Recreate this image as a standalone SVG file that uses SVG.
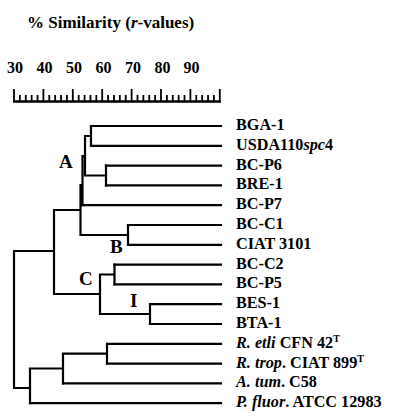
<svg xmlns="http://www.w3.org/2000/svg" width="400" height="420" viewBox="0 0 400 420">
<style>
text{font-family:"Liberation Serif","Times New Roman",serif;font-weight:bold;fill:#000}
.lbl{font-size:16.2px}
.num{font-size:16px;text-anchor:middle}
.cl{font-size:19px}
.it{font-style:italic}
.ln{fill:none;stroke:#000;stroke-width:2.2;stroke-linecap:square}
.tk{fill:none;stroke:#000;stroke-width:1.8}
</style>
<rect width="400" height="420" fill="#fff"/>
<g id="title"><text x="27" y="28" style="font-size:17px">% Similarity (<tspan class="it">r</tspan>-values)</text></g>
<g id="axis">
<text class="num" x="15" y="73">30</text>
<text class="num" x="44.5" y="73">40</text>
<text class="num" x="74" y="73">50</text>
<text class="num" x="103.5" y="73">60</text>
<text class="num" x="133" y="73">70</text>
<text class="num" x="162.5" y="73">80</text>
<text class="num" x="191.5" y="73">90</text>
<path d="M13 101.5H221" fill="none" stroke="#000" stroke-width="2.5"/>
<path class="tk" d="M14 89V101M43.4 89V101M72.8 89V101M102.2 89V101M131.6 89V101M161 89V101M190.4 89V101M219.8 89V101"/>
<path class="tk" d="M19.88 95V101M25.76 95V101M31.64 95V101M37.52 95V101M49.28 95V101M55.16 95V101M61.04 95V101M66.92 95V101M78.68 95V101M84.56 95V101M90.44 95V101M96.32 95V101M108.08 95V101M113.96 95V101M119.84 95V101M125.72 95V101M137.48 95V101M143.36 95V101M149.24 95V101M155.12 95V101M166.88 95V101M172.76 95V101M178.64 95V101M184.52 95V101M196.28 95V101M202.16 95V101M208.04 95V101M213.92 95V101"/>
</g>
<g id="connectors" class="ln">
<path class="ln" d="M91 126H221M91 145.8H221M106 165.6H221M106 185.4H221M82.5 205.2H221M128 225H221M128 244.8H221M114.5 264.6H221M114.5 284.4H221M150 304.2H221M150 324H221M107 343.8H221M107 363.6H221M63 383.4H221M30 403.2H221"/>
<path class="ln" d="M91 126V145.8M106 165.6V185.4M85 136V175.5M85 136H91M85 175.5H106M82.5 156V205.2M82.5 156H85M80.5 185V235M80.5 185H82.5M80.5 235H128M128 225V244.8M114.5 264.6V284.4M150 304.2V324M100 274.5V314M100 274.5H114.5M100 314H150M54 210V294M54 210H80.5M54 294H100M107 343.8V363.6M63 353.7V383.4M63 353.7H107M30 368.5V403.2M30 368.5H63M14 251V388M14 251H54M14 388H30"/>
</g>
<g id="cluster-A"><text class="cl" x="59" y="168">A</text></g>
<g id="cluster-B"><text class="cl" x="110" y="253">B</text></g>
<g id="cluster-C"><text class="cl" x="79" y="285">C</text></g>
<g id="cluster-I"><text class="cl" x="130" y="307">I</text></g>
<g id="leaf-BGA-1"><text class="lbl" x="236" y="130">BGA-1</text></g>
<g id="leaf-USDA110spc4"><text class="lbl" x="236" y="149.8">USDA110<tspan class="it">spc</tspan>4</text></g>
<g id="leaf-BC-P6"><text class="lbl" x="236" y="169.6">BC-P6</text></g>
<g id="leaf-BRE-1"><text class="lbl" x="236" y="189.4">BRE-1</text></g>
<g id="leaf-BC-P7"><text class="lbl" x="236" y="209.2">BC-P7</text></g>
<g id="leaf-BC-C1"><text class="lbl" x="236" y="229">BC-C1</text></g>
<g id="leaf-CIAT3101"><text class="lbl" x="236" y="248.8">CIAT 3101</text></g>
<g id="leaf-BC-C2"><text class="lbl" x="236" y="268.6">BC-C2</text></g>
<g id="leaf-BC-P5"><text class="lbl" x="236" y="288.4">BC-P5</text></g>
<g id="leaf-BES-1"><text class="lbl" x="236" y="308.2">BES-1</text></g>
<g id="leaf-BTA-1"><text class="lbl" x="236" y="328">BTA-1</text></g>
<g id="leaf-Retli"><text class="lbl" x="236" y="347.8"><tspan class="it">R. etli</tspan> CFN 42<tspan dy="-6" style="font-size:10px">T</tspan></text></g>
<g id="leaf-Rtrop"><text class="lbl" x="236" y="367.6"><tspan class="it">R. trop</tspan>. CIAT 899<tspan dy="-6" style="font-size:10px">T</tspan></text></g>
<g id="leaf-Atum"><text class="lbl" x="236" y="387.4"><tspan class="it">A. tum</tspan>. C58</text></g>
<g id="leaf-Pfluor"><text class="lbl" x="236" y="407.2"><tspan class="it">P. fluor</tspan>. ATCC 12983</text></g>
</svg>
